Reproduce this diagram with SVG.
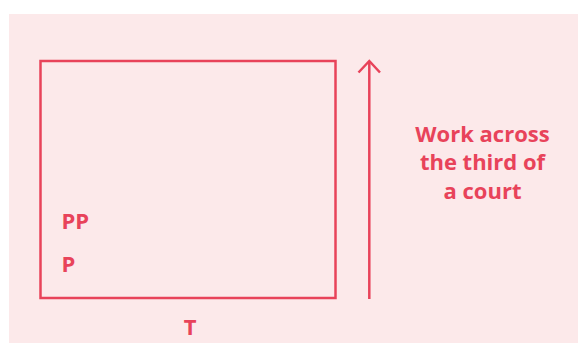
<svg xmlns="http://www.w3.org/2000/svg" width="578" height="343" viewBox="0 0 578 343">
<style>
.t{font-family:"Open Sans","Liberation Sans",sans-serif;font-weight:700;font-size:22px;fill:#e8435a}
.s{fill:none;stroke:#e8435a;stroke-width:2.5}
</style>
<rect x="9" y="14" width="569" height="329" fill="#fce9ea"/>
<g id="court">
<rect class="s" x="40.5" y="61" width="295" height="237"/>
</g>
<g id="labels">
<text class="t" x="61.5" y="229">PP</text>
<text class="t" x="61.5" y="271.5">P</text>
<text class="t" x="190" y="335" text-anchor="middle">T</text>
</g>
<g id="connectors">
<line class="s" x1="369.3" y1="299" x2="369.3" y2="61"/>
<polyline class="s" points="358.5,72.5 369.3,61 380,72.5"/>
</g>
<g id="caption">
<text class="t" text-anchor="middle"><tspan x="482.5" y="141.5">Work across</tspan><tspan x="482.5" y="170">the third of</tspan><tspan x="482.5" y="198.5">a court</tspan></text>
</g>
</svg>
